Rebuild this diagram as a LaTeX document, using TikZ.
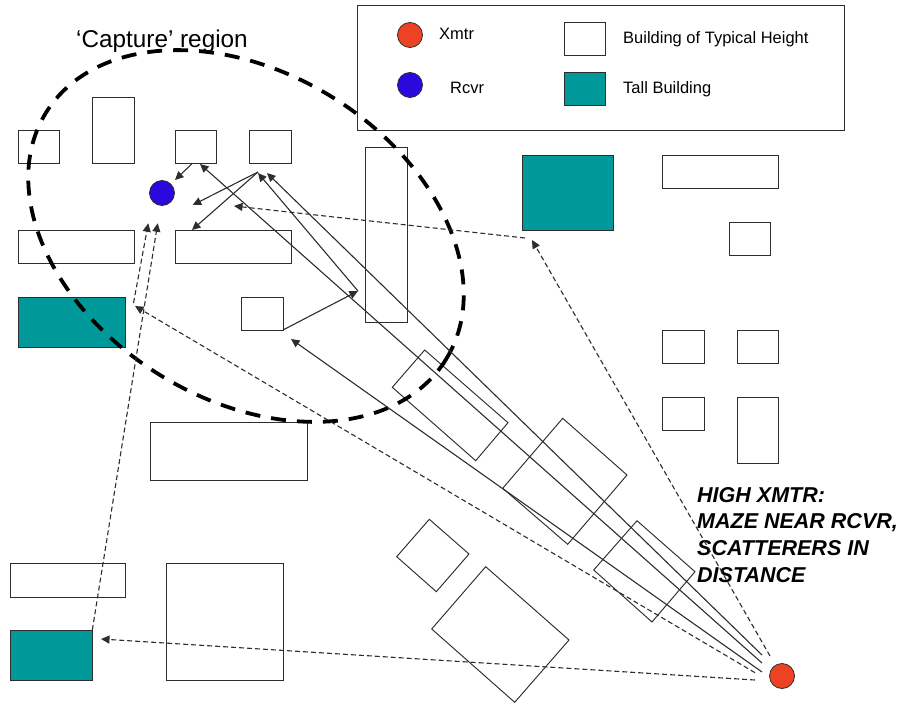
\documentclass[tikz,border=0pt]{standalone}
\usepackage{fontspec}
\setmainfont{Liberation Sans}
\usetikzlibrary{arrows.meta}
\definecolor{cTall}{RGB}{0,153,153}
\definecolor{cXmtr}{RGB}{238,66,36}
\definecolor{cRcvr}{RGB}{42,8,222}
\definecolor{cEdge}{RGB}{45,45,45}
\tikzset{
  bldg/.style={draw=cEdge,line width=0.95pt},
  tallbldg/.style={bldg,fill=cTall},
  ant/.style={circle,draw=cEdge,line width=0.8pt,minimum size=25pt,inner sep=0pt},
  ray/.style={draw=cEdge,line width=1.1pt,-{Triangle[length=8.5pt,width=8pt]}},
  echo/.style={draw=cEdge,line width=1.1pt,dash pattern=on 5pt off 3pt,-{Triangle[length=8.5pt,width=8pt]}},
  lbl/.style={anchor=base west,inner sep=0pt,font=\fontsize{16.5}{20}\selectfont}
}
\begin{document}
\begin{tikzpicture}[x=1pt,y=1pt]
  \useasboundingbox (0,0) rectangle (908,-704);
  % plain buildings
  \foreach \xa/\ya/\xb/\yb in {
     18/130/59/163, 92/97/134/163, 175/130/216/163, 249/130/291/163,
     18/230/134/263, 175/230/291/263, 241/297/283/330, 365/147/407/322,
     150/422/307/480, 10/563/125/597, 166/563/283/680,
     662/155/778/188, 729/222/770/255, 662/330/704/363, 737/330/778/363,
     662/397/704/430, 737/397/778/463}
     \draw[bldg] (\xa,-\ya) rectangle (\xb,-\yb);
  % tall buildings
  \foreach \xa/\ya/\xb/\yb in {18/297/125/347, 10/630/92/680, 522/155/613/230}
     \draw[tallbldg] (\xa,-\ya) rectangle (\xb,-\yb);
  % buildings at an angle
  \draw[bldg] (424.7,-350) -- (508,-422.7) -- (475.7,-460.7) -- (392.3,-387.3) -- cycle;
  \draw[bldg] (562.7,-418.3) -- (627,-475) -- (567.7,-544.3) -- (502.7,-488.3) -- cycle;
  \draw[bldg] (637,-520.7) -- (695,-571.7) -- (652,-622) -- (593.7,-570) -- cycle;
  \draw[bldg] (429.3,-519.3) -- (469,-554) -- (436.3,-591.7) -- (396.7,-556.7) -- cycle;
  \draw[bldg] (485.7,-566.7) -- (569,-640) -- (514.7,-702.3) -- (431.7,-629) -- cycle;
  % legend
  \draw[bldg] (357,-5) rectangle (844,-130);
  \node[ant,fill=cXmtr] (keyx) at (410,-35) {};
  \node[ant,fill=cRcvr] (keyr) at (410,-85) {};
  \draw[bldg] (564,-22) rectangle (605,-55);
  \draw[tallbldg] (564,-72) rectangle (605,-105);
  \node[lbl] (keyxt) at (439,-39.5) {Xmtr};
  \node[lbl] (keyrt) at (450,-93) {Rcvr};
  \node[lbl] (keybt) at (623,-43) {Building of Typical Height};
  \node[lbl] (keytt) at (623,-93) {Tall Building};
  % capture region
  \draw[black,line width=3.8pt,dash pattern=on 15pt off 11pt] (246,-236) ellipse[x radius=235,y radius=163.5,rotate=-31.6];
  \node[lbl,font=\fontsize{24.3}{28}\selectfont] (capture) at (76,-47) {‘Capture’ region};
  % the two antennas
  \node[ant,fill=cXmtr] (xmtr) at (782,-676) {};
  \node[ant,fill=cRcvr] (rcvr) at (162,-193) {};
  \node[anchor=north west,inner sep=0pt,align=left,font=\fontsize{21.5}{26.7}\selectfont\bfseries\itshape] (note) at (697,-487)
     {HIGH XMTR:\\MAZE NEAR RCVR,\\SCATTERERS IN\\DISTANCE};
  % ends of the rays
  \foreach \name/\x/\y in {
     sa/762/655, sb/762/663, sc/762/672, sd/770/656, se/755/672.7, sf/755/680,
     ha/267/173, hb/200/164, hc/291/339, hd/532/240, he/135/306, hf/101/639,
     corner/283/330, bounce/358/291, roof/258/172, near/258/173, wa/192.7/205, wb/192/230,
     eaveb/191.7/164, eavee/175/180, tall/525/238, tallend/234/206,
     sidea/133.5/303, sidee/148.3/223.3, lowa/92.3/630, lowe/157.7/223.3}
     \coordinate (\name) at (\x,-\y);
  % direct and scattered rays
  \draw[ray] (sa) -- (ha);
  \draw[ray] (sb) -- (hb);
  \draw[ray] (sc) -- (hc);
  \draw[ray] (corner) -- (bounce);
  \draw[ray] (bounce) -- (near);
  \draw[ray] (roof) -- (wa);
  \draw[ray] (roof) -- (wb);
  \draw[ray] (eaveb) -- (eavee);
  % rays by way of the tall buildings
  \draw[echo] (sd) -- (hd);
  \draw[echo] (tall) -- (tallend);
  \draw[echo] (se) -- (he);
  \draw[echo] (sidea) -- (sidee);
  \draw[echo] (sf) -- (hf);
  \draw[echo] (lowa) -- (lowe);
\end{tikzpicture}
\end{document}
